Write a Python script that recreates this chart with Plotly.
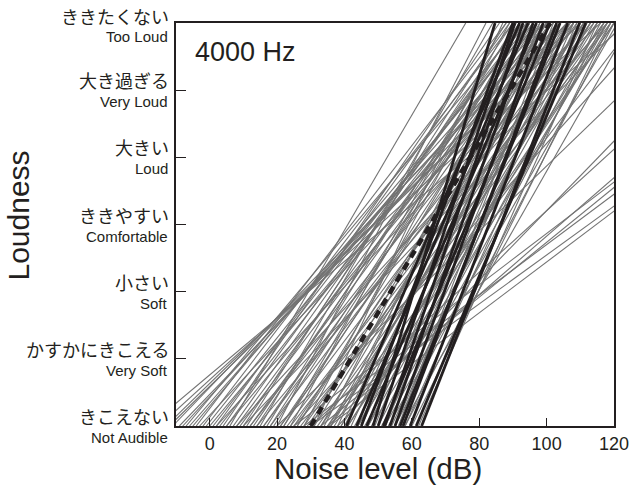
import plotly.graph_objects as go

# ---- data (x at Loudness=0 and x at Loudness=6 for each individual line, dB) ----
gray_x0 = [-18, -15, -13, -12, -11, -8, -7, -5, -4, -3, -2, 0, 1, 2, 3, 4, 5, 6, 7, 8,
           9, 10, 11, 12, 13, 14, 15, 16, 17, 18, 19, 20, 20, 21, 22, 23, 24, 25, 25, 26,
           27, 28, 29, 30, 30, 31, 32, 33, 34, 35, 35, 36, 35.5, 37, 38, 38, 39, 28, 40, 41,
           25, 42, 43, 44, 30, 45, 46, 47, 35, 48, 49, 33, 50, 51, 52, 53, 54, 55, 56, 57,
           58, 60, 62,
           -9, -6, -1, 2, 5, 8, 10, 12, 14, 16, 18, 21, 22, 24, 26, 28, 31, 33, 36, 39,
           41, 44, 47, 52, 55, 58]
gray_x6 = [124, 116, 110, 110, 104, 102, 93, 96, 88, 108, 90, 100, 94, 112, 97, 86, 104, 76, 92, 118,
           99, 123, 88, 106, 95, 114, 84, 101, 91, 109, 97, 82, 144, 103, 93, 115, 89, 132, 107, 98,
           119, 92, 111, 161, 100, 87, 117, 104, 95, 126, 113, 99, 194, 108, 154, 94, 120, 188, 103, 115,
           182, 97, 110, 118, 195, 101, 113, 106, 173, 119, 98, 180, 111, 116, 104, 121, 109, 117, 102, 125,
           112, 119, 115,
           106, 99, 95, 89, 92, 97, 90, 100, 93, 108, 96, 111, 100, 117, 104, 113, 106, 118, 110, 101,
           120, 107, 114, 118, 108, 120]

black_x0 = [40.6, 43.6, 45, 46.6, 48.5, 50, 51.5, 52, 53.5, 55, 56.5, 57.4, 59.5, 61.3, 62.9]
black_x6 = [92, 94.5, 90, 97, 84.7, 90.6, 101, 93, 96, 99, 104, 103, 106.3, 111.6, 109.8]

mean_x = [30, 101]
mean_y = [0, 6]

x_ticks = [0, 20, 40, 60, 80, 100, 120]
levels = [0, 1, 2, 3, 4, 5, 6]
labels_ja = ["きこえない", "かすかにきこえる", "小さい", "ききやすい", "大きい", "大き過ぎる", "ききたくない"]
labels_en = ["Not Audible", "Very Soft", "Soft", "Comfortable", "Loud", "Very Loud", "Too Loud"]

GRAY = "rgb(115,115,115)"
BLACK = "rgb(35,31,32)"
SANS = "Liberation Sans, Arial, sans-serif"
JA = "Noto Sans CJK JP, sans-serif"

fig = go.Figure()

gx, gy = [], []
for a, b in zip(gray_x0, gray_x6):
    gx += [a, b, None]
    gy += [0, 6, None]
fig.add_trace(go.Scatter(x=gx, y=gy, mode="lines", line=dict(color=GRAY, width=1.1),
                         hoverinfo="skip", showlegend=False))

bx, by = [], []
for a, b in zip(black_x0, black_x6):
    bx += [a, b, None]
    by += [0, 6, None]
fig.add_trace(go.Scatter(x=bx, y=by, mode="lines", line=dict(color=BLACK, width=2.8),
                         hoverinfo="skip", showlegend=False))

fig.add_trace(go.Scatter(x=mean_x, y=mean_y, mode="lines",
                         line=dict(color=BLACK, width=4.5, dash="8px,6px"),
                         hoverinfo="skip", showlegend=False))

annotations = []
for i, (lv, ja, en) in enumerate(zip(levels, labels_ja, labels_en)):
    top = (i == len(levels) - 1)
    annotations.append(dict(x=0, xref="paper", y=lv, yref="y", text=ja, showarrow=False,
                            xanchor="right", yanchor="middle", xshift=-5,
                            yshift=(7 if top else 10),
                            font=dict(family=JA, size=18, color="#231f20")))
    annotations.append(dict(x=0, xref="paper", y=lv, yref="y", text=en, showarrow=False,
                            xanchor="right", yanchor="middle", xshift=-6,
                            yshift=(-13.5 if top else -11.5),
                            font=dict(family=SANS, size=15, color="#231f20")))

annotations.append(dict(x=0, xref="paper", y=1, yref="paper", text="4000 Hz", showarrow=False,
                        xanchor="left", yanchor="middle", xshift=17, yshift=-29,
                        font=dict(family=SANS, size=27, color="#231f20")))
annotations.append(dict(x=0, xref="paper", y=0.5, yref="paper", text="Loudness", showarrow=False,
                        xanchor="center", yanchor="middle", xshift=-158, yshift=9, textangle=-90,
                        font=dict(family=SANS, size=30, color="#231f20")))
annotations.append(dict(x=0.5, xref="paper", y=0, yref="paper", text="Noise level (dB)", showarrow=False,
                        xanchor="center", yanchor="middle", xshift=-17, yshift=-42,
                        font=dict(family=SANS, size=29.5, color="#231f20")))

fig.update_layout(
    width=632, height=486,
    autosize=False,
    margin=dict(l=176, r=18, t=23, b=60, autoexpand=False),
    paper_bgcolor="white", plot_bgcolor="white",
    showlegend=False,
    annotations=annotations,
    xaxis=dict(range=[-10, 120], tickvals=x_ticks, ticks="inside", ticklen=8, tickwidth=1,
               tickcolor="#231f20", showgrid=False, zeroline=False, automargin=False,
               showline=True, linecolor="#231f20", linewidth=2, mirror=True,
               tickfont=dict(family=SANS, size=18, color="#231f20")),
    yaxis=dict(range=[0, 6], tickvals=levels, ticks="inside", ticklen=10, tickwidth=1,
               tickcolor="#231f20", showticklabels=False, showgrid=False, zeroline=False,
               automargin=False,
               showline=True, linecolor="#231f20", linewidth=2, mirror=True),
)

fig.write_html("out.html",
               config={"responsive": False, "displayModeBar": False},
               post_script="document.body.style.margin='0px';document.body.style.overflow='hidden';")
